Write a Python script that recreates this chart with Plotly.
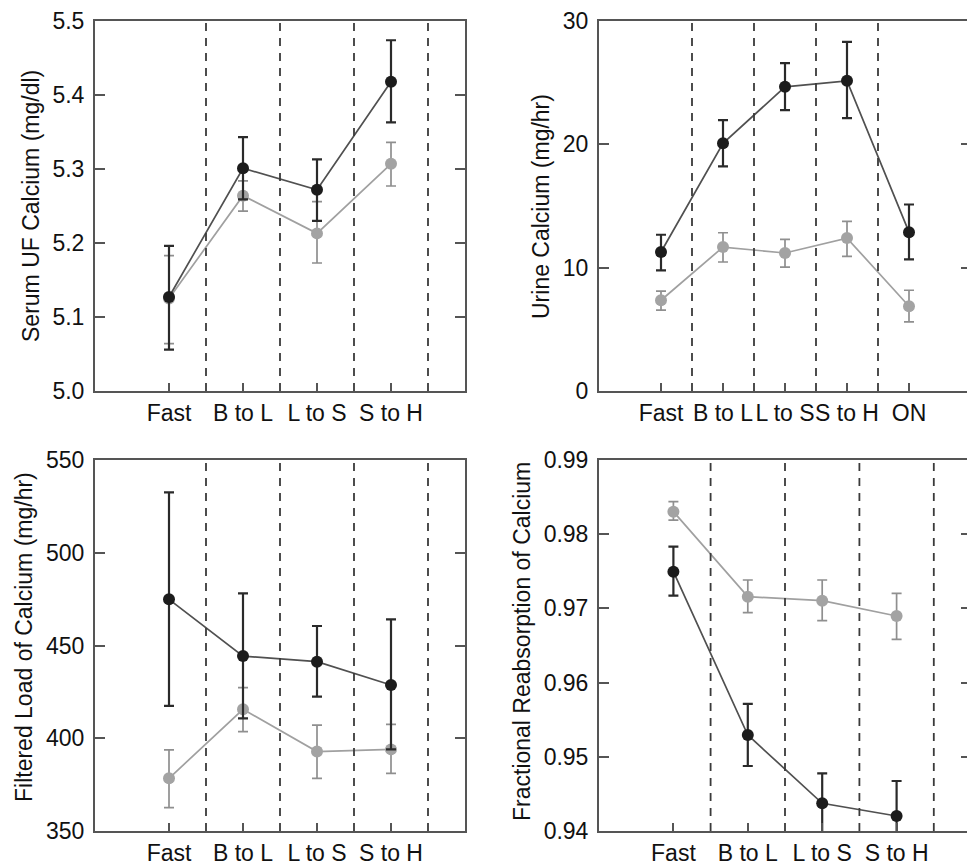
import plotly.graph_objects as go

# ---------------- data ----------------
cats4 = ["Fast", "B to L", "L to S", "S to H"]
cats5 = ["Fast", "B to L", "L to S", "S to H", "ON"]

# Panel A: Serum UF Calcium (mg/dl)
serum_black = [5.127, 5.301, 5.272, 5.418]
serum_black_hi = [5.196, 5.343, 5.313, 5.474]
serum_black_lo = [5.056, 5.259, 5.230, 5.363]
serum_grey = [5.125, 5.264, 5.213, 5.307]
serum_grey_hi = [5.183, 5.284, 5.256, 5.336]
serum_grey_lo = [5.064, 5.243, 5.173, 5.277]

# Panel B: Urine Calcium (mg/hr)
urine_black = [11.27, 20.08, 24.66, 25.15, 12.88]
urine_black_hi = [12.67, 21.97, 26.58, 28.30, 15.12]
urine_black_lo = [9.78, 18.22, 22.78, 22.13, 10.67]
urine_grey = [7.36, 11.67, 11.19, 12.40, 6.87]
urine_grey_hi = [8.09, 12.83, 12.29, 13.75, 8.17]
urine_grey_lo = [6.55, 10.46, 10.05, 10.92, 5.61]

# Panel C: Filtered Load of Calcium (mg/hr)
load_black = [474.9, 444.3, 441.3, 428.7]
load_black_hi = [532.6, 478.1, 460.5, 464.1]
load_black_lo = [417.4, 410.7, 422.4, 394.0]
load_grey = [378.4, 415.6, 392.8, 394.0]
load_grey_hi = [393.7, 427.3, 407.1, 407.5]
load_grey_lo = [362.6, 403.6, 378.4, 381.1]

# Panel D: Fractional Reabsorption of Calcium
frac_black = [0.97495, 0.95294, 0.94373, 0.94202]
frac_black_hi = [0.97832, 0.95712, 0.94777, 0.94674]
frac_black_lo = [0.97172, 0.94876, 0.93970, 0.93730]
frac_grey = [0.98304, 0.97158, 0.97104, 0.96898]
frac_grey_hi = [0.98438, 0.97383, 0.97383, 0.97203]
frac_grey_lo = [0.98191, 0.96943, 0.96835, 0.96583]

y_titles = ["Serum UF Calcium (mg/dl)", "Urine Calcium (mg/hr)",
            "Filtered Load of Calcium (mg/hr)", "Fractional Reabsorption of Calcium"]
y_ranges = [[5.0, 5.5], [0, 30], [350, 550], [0.94, 0.99]]
y_dticks = [0.1, 10, 50, 0.01]
y_formats = [".1f", "d", "d", ".2f"]

# ---------------- styling ----------------
FONT = "Liberation Sans, Arial, sans-serif"
BLACK_M = "#1c1c1c"
BLACK_L = "#505050"
GREY_M = "#a3a3a3"
GREY_L = "#a0a0a0"
AXIS = "#555555"

OFF = 8                  # default page (body) margin of the html page
W, H = 975 - OFF, 866 - OFF

def px_x(px):
    return (px - OFF) / W

def px_y(py):
    return 1 - (py - OFF) / H

boxes = [  # (left, right, top, bottom) in window px
    (95, 465, 21, 391),
    (599, 971, 21, 391),
    (95, 465, 460, 831),
    (599, 971, 460, 831),
]
title_pos = [(31, 206), (541, 207), (24, 637), (522, 642)]

panels = [
    (cats4, serum_grey, serum_grey_hi, serum_grey_lo, serum_black, serum_black_hi, serum_black_lo),
    (cats5, urine_grey, urine_grey_hi, urine_grey_lo, urine_black, urine_black_hi, urine_black_lo),
    (cats4, load_grey, load_grey_hi, load_grey_lo, load_black, load_black_hi, load_black_lo),
    (cats4, frac_grey, frac_grey_hi, frac_grey_lo, frac_black, frac_black_hi, frac_black_lo),
]

fig = go.Figure()
layout = dict(
    width=W, height=H,
    margin=dict(l=0, r=0, t=0, b=0, pad=0),
    paper_bgcolor="white", plot_bgcolor="white",
    showlegend=False,
    font=dict(family=FONT, color="#111111"),
)
shapes = []
annotations = []

for i, (cats, g, ghi, glo, b, bhi, blo) in enumerate(panels):
    n = i + 1
    xa = "x" if n == 1 else f"x{n}"
    ya = "y" if n == 1 else f"y{n}"
    xkey = "xaxis" if n == 1 else f"xaxis{n}"
    ykey = "yaxis" if n == 1 else f"yaxis{n}"
    l, r, t, bt = boxes[i]

    for vals, hi, lo, mcol, lcol, ecol, ew in [
        (g, ghi, glo, GREY_M, GREY_L, "#8f8f8f", 1.7),
        (b, bhi, blo, BLACK_M, BLACK_L, "#2a2a2a", 2.2),
    ]:
        fig.add_trace(go.Scatter(
            x=cats, y=vals, xaxis=xa, yaxis=ya,
            mode="lines+markers",
            line=dict(color=lcol, width=1.7),
            marker=dict(color=mcol, size=12, line=dict(width=0)),
            error_y=dict(type="data", symmetric=False,
                         array=[h - v for h, v in zip(hi, vals)],
                         arrayminus=[v - lo_ for v, lo_ in zip(vals, lo)],
                         color=ecol, thickness=ew, width=5),
            cliponaxis=True,
        ))

    layout[xkey] = dict(
        domain=[px_x(l), px_x(r)], anchor=ya,
        type="category", categoryorder="array", categoryarray=cats,
        range=[-1, len(cats)],
        showline=True, linecolor=AXIS, linewidth=2, mirror=True,
        ticks="inside", ticklen=8, tickwidth=1.5, tickcolor=AXIS,
        showgrid=False, zeroline=False, automargin=False,
        tickangle=0, ticklabeloverflow="allow",
        tickfont=dict(size=23, family=FONT, color="#111111"),
        ticklabelstandoff=0,
    )
    layout[ykey] = dict(
        domain=[px_y(bt), px_y(t)], anchor=xa,
        range=y_ranges[i], dtick=y_dticks[i], tick0=y_ranges[i][0],
        tickformat=y_formats[i],
        showline=True, linecolor=AXIS, linewidth=2, mirror="ticks",
        ticks="inside", ticklen=10, tickwidth=1.5, tickcolor=AXIS,
        showgrid=False, zeroline=False, automargin=False,
        ticklabeloverflow="allow",
        tickfont=dict(size=23, family=FONT, color="#111111"),
        ticklabelstandoff=4,
    )

    # dashed separators between consecutive stages (4 per panel)
    for k in range(4):
        shapes.append(dict(
            type="line", xref=xa, yref=f"{ya} domain",
            x0=k + 0.5, x1=k + 0.5, y0=0, y1=1,
            line=dict(color="#3a3a3a", width=1.8, dash="8px,7px"),
        ))

    tx, ty = title_pos[i]
    annotations.append(dict(
        text=y_titles[i], textangle=-90, showarrow=False,
        xref="paper", yref="paper", x=px_x(tx), y=px_y(ty),
        xanchor="center", yanchor="middle",
        font=dict(size=23, family=FONT, color="#111111"),
    ))

layout["shapes"] = shapes
layout["annotations"] = annotations
fig.update_layout(**layout)
fig.write_html("out.html")
